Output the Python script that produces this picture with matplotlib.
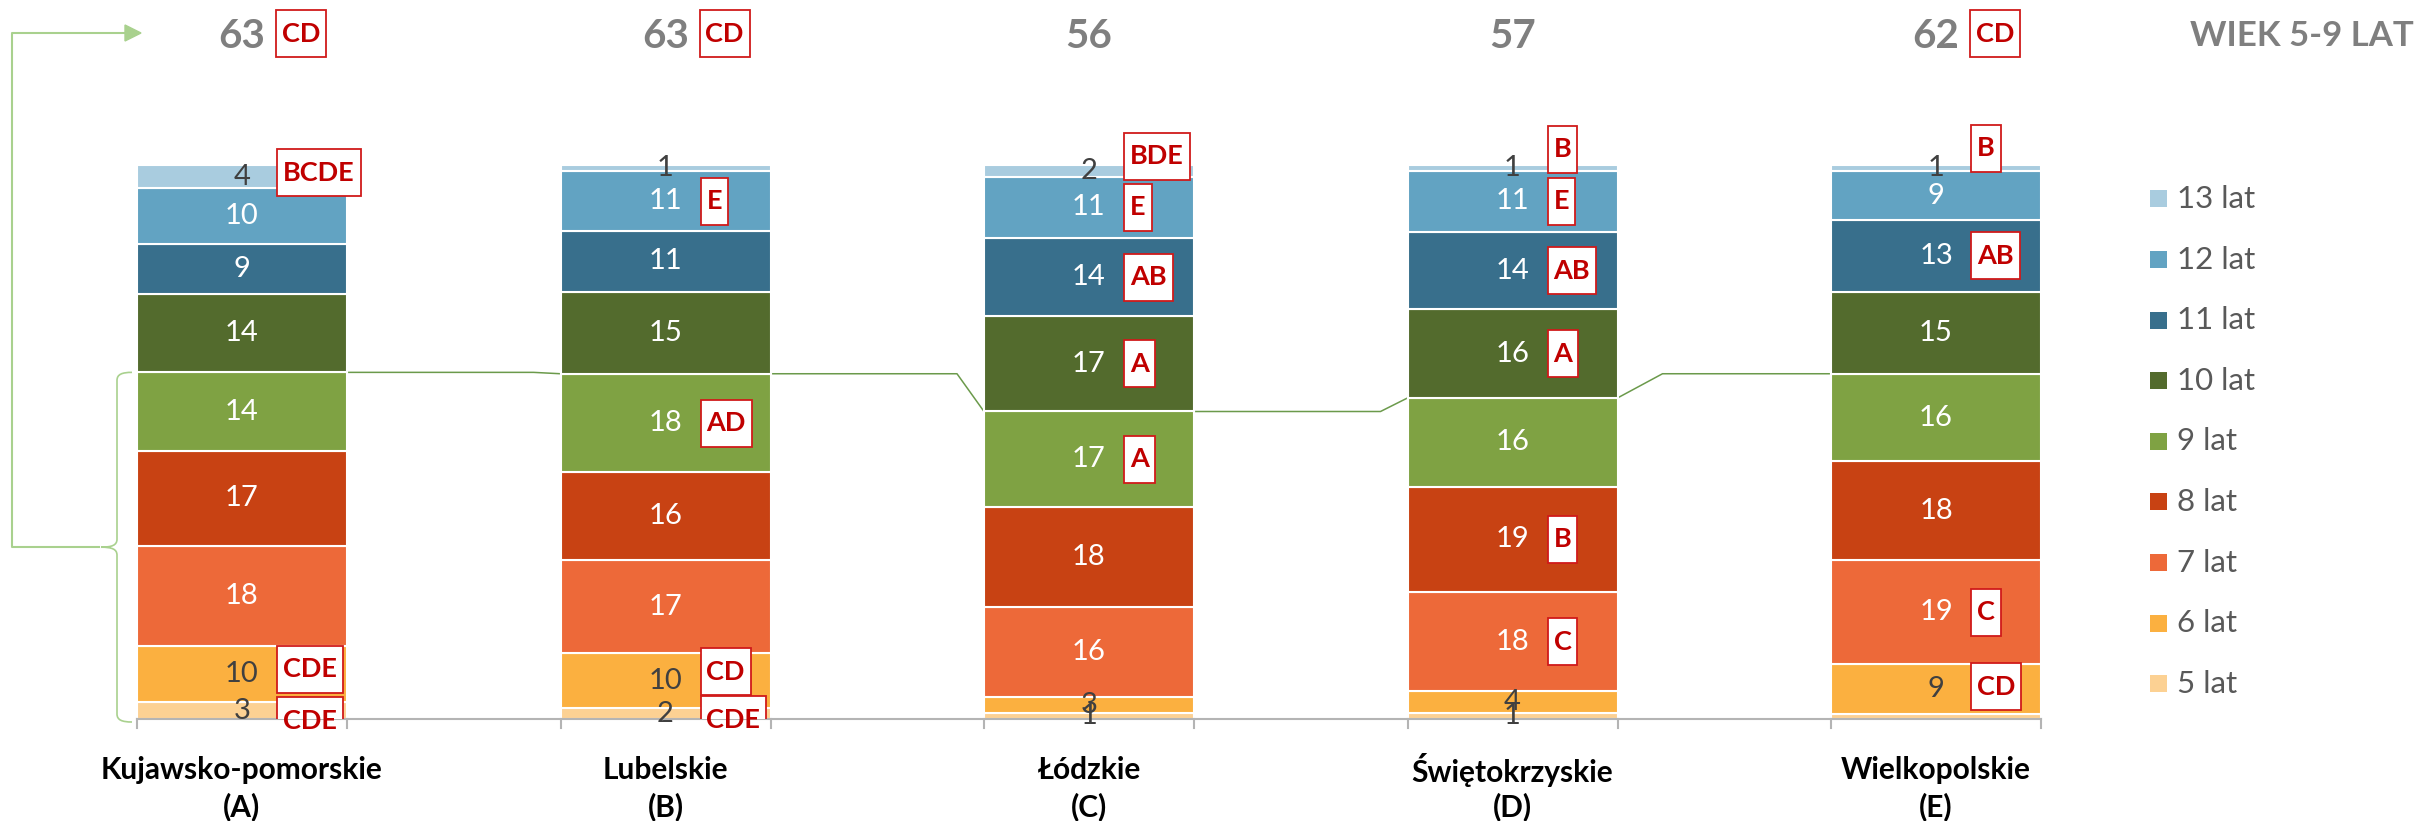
import matplotlib
matplotlib.use("Agg")
import matplotlib.pyplot as plt
import numpy as np
from matplotlib.patches import Rectangle, PathPatch, Polygon
from matplotlib.path import Path
from matplotlib.transforms import Affine2D
from matplotlib.lines import Line2D

plt.rcParams['font.family'] = ['Lato', 'DejaVu Sans']

W, H = 2425, 821

# ---------------- data ----------------
regions = ["Kujawsko-pomorskie\n(A)", "Lubelskie\n(B)", "Łódzkie\n(C)",
           "Świętokrzyskie\n(D)", "Wielkopolskie\n(E)"]
ages = ["5 lat", "6 lat", "7 lat", "8 lat", "9 lat",
        "10 lat", "11 lat", "12 lat", "13 lat"]

lat5 = [3, 2, 1, 1, 1]
lat6 = [10, 10, 3, 4, 9]
lat7 = [18, 17, 16, 18, 19]
lat8 = [17, 16, 18, 19, 18]
lat9 = [14, 18, 17, 16, 16]
lat10 = [14, 15, 17, 16, 15]
lat11 = [9, 11, 14, 14, 13]
lat12 = [10, 11, 11, 11, 9]
lat13 = [4, 1, 2, 1, 1]

share_5_9 = [63, 63, 56, 57, 62]
share_5_9_marks = ["CD", "CD", "", "", "CD"]
group_title = "WIEK 5-9 LAT"

# letters of regions from which a value differs significantly
marks = {
    "13 lat": ["BCDE", "", "BDE", "B", "B"],
    "12 lat": ["", "E", "E", "E", ""],
    "11 lat": ["", "", "AB", "AB", "AB"],
    "10 lat": ["", "", "A", "A", ""],
    "9 lat": ["", "AD", "A", "", ""],
    "8 lat": ["", "", "", "B", ""],
    "7 lat": ["", "", "", "C", "C"],
    "6 lat": ["CDE", "CD", "", "", "CD"],
    "5 lat": ["CDE", "CDE", "", "", ""],
}

# ---------------- style ----------------
colors = ["#FCD193", "#FBB040", "#ED6939", "#C84213", "#7FA243",
          "#536B2D", "#386F8C", "#62A3C2", "#A9CCDF"]
dark_label = {"5 lat", "6 lat", "13 lat"}
# segments whose value label is left out (too thin)
hidden_labels = {("5 lat", 4)}
# vertical nudges of the letter boxes, pixels (negative = up)
mark_dy = {
    "13 lat": [-4, 0, -15, -19, -20],
    "6 lat": [-5, -9, 0, 0, -2],
    "5 lat": [10, 6, 0, 0, 0],
}
RED = "#C00000"
GREEN_LINE = "#6B9A4B"
BRACE = "#A9D18E"

values = [lat5, lat6, lat7, lat8, lat9, lat10, lat11, lat12, lat13]
vals = np.array(values, dtype=float)
pct = vals / vals.sum(axis=0) * 100.0

# geometry
X0 = 242.0          # centre of first bar, px
DX = 423.5          # distance between bar centres, px
BASE = 719.0        # baseline, px from top
PPU = 553.5 / 100   # px per percent
BAR_W = 210.0 / DX

fig = plt.figure(figsize=(W / 100, H / 100), dpi=100)
ax = fig.add_axes([0, (H - BASE) / H, 1, BASE / H])
ax.set_xlim(-X0 / DX, (W - X0) / DX)
ax.set_ylim(0, BASE / PPU)
ax.axis("off")

px = Affine2D().scale(1 / W, -1 / H).translate(0, 1) + fig.transFigure


def ypx(y):
    return (BASE - y) / PPU


x = np.arange(len(regions))
bottom = np.zeros(len(regions))
for i, age in enumerate(ages):
    ax.bar(x, pct[i], BAR_W, bottom=bottom, color=colors[i],
           edgecolor="white", linewidth=1.5, label=age, zorder=2)
    for j in range(len(regions)):
        if (age, j) in hidden_labels:
            continue
        yc = bottom[j] + pct[i][j] / 2
        col = "#404040" if age in dark_label else "white"
        ax.text(x[j], yc, f"{values[i][j]:d}", ha="center", va="center",
                fontsize=21, color=col, zorder=5)
    bottom = bottom + pct[i]

fig.canvas.draw()
renderer = fig.canvas.get_renderer()


def letter_box(xc, yc, txt, fs=19.5):
    left = xc + 35 / DX
    t = ax.text(left, yc, txt, ha="left", va="center", fontsize=fs,
                fontweight="bold", color=RED, zorder=7)
    bb = t.get_window_extent(renderer)
    hpad = 6
    wbox = (bb.width + 2 * hpad) / DX
    t.set_x(left + hpad / DX)
    hbox = 47 / PPU
    ax.add_patch(Rectangle((left, yc - hbox / 2), wbox, hbox, facecolor="white",
                           edgecolor="#D01A1A", linewidth=1.3, zorder=6))


bottom = np.zeros(len(regions))
for i, age in enumerate(ages):
    for j in range(len(regions)):
        m = marks[age][j]
        if m:
            yc = bottom[j] + pct[i][j] / 2 - mark_dy.get(age, [0] * 5)[j] / PPU
            letter_box(x[j], yc, m)
    bottom = bottom + pct[i]

# shares of 5-9 year olds above the bars
for j in range(len(regions)):
    ax.text(x[j], ypx(36), str(share_5_9[j]), ha="center", va="center",
            fontsize=29, fontweight="bold", color="#7F7F7F", clip_on=False)
    if share_5_9_marks[j]:
        letter_box(x[j] - 1 / DX, ypx(33.5), share_5_9_marks[j])

fig.text(2414 / W, 1 - 36 / H, group_title, ha="right", va="center",
         fontsize=25, fontweight="bold", color="#7F7F7F")

# horizontal axis with ticks at bar edges
left_e = x - BAR_W / 2
right_e = x + BAR_W / 2
ax.plot([left_e[0], right_e[-1]], [0, 0], color="#B4B4B4", lw=1.5,
        clip_on=False, zorder=3)
for xe in np.concatenate([left_e, right_e]):
    ax.plot([xe, xe], [0, -9 / PPU], color="#B4B4B4", lw=1.5, clip_on=False,
            zorder=3)

# category labels
for j, name in enumerate(regions):
    l1, l2 = name.split("\n")
    ax.text(x[j], ypx(770), l1, ha="center", va="center", fontsize=21.5,
            fontweight="bold", color="black", clip_on=False)
    ax.text(x[j], ypx(807), l2, ha="center", va="center", fontsize=21.5,
            fontweight="bold", color="black", clip_on=False)

# connector at the top of the 9-year-olds segment
level = pct[:5].sum(axis=0)
bends = [-27, -27, -27, 45]
for j in range(len(regions) - 1):
    xa, xb = right_e[j], left_e[j + 1]
    la, lb = level[j], level[j + 1]
    b = bends[j]
    if b < 0:
        xs = [xa, xb + b / DX, xb]
        ys = [la, la, lb]
    else:
        xs = [xa, xa + b / DX, xb]
        ys = [la, lb, lb]
    ax.plot(xs, ys, color=GREEN_LINE, lw=1.1, zorder=1)

# brace over the 5-9 age group and arrow to the share
top9 = BASE - level[0] * PPU
bot9 = BASE + 3
mid9 = (top9 + bot9) / 2
bx, ex, tipx = 117, 132, 101
verts = [(ex, top9), (bx + 5, top9), (bx, top9 + 2), (bx, top9 + 8),
         (bx, mid9 - 8),
         (bx, mid9 - 2), (bx - 5, mid9), (tipx, mid9),
         (bx - 5, mid9), (bx, mid9 + 2), (bx, mid9 + 8),
         (bx, bot9 - 8),
         (bx, bot9 - 2), (bx + 5, bot9), (ex, bot9)]
codes = [Path.MOVETO, Path.CURVE4, Path.CURVE4, Path.CURVE4,
         Path.LINETO,
         Path.CURVE4, Path.CURVE4, Path.CURVE4,
         Path.CURVE4, Path.CURVE4, Path.CURVE4,
         Path.LINETO,
         Path.CURVE4, Path.CURVE4, Path.CURVE4]
fig.patches.append(PathPatch(Path(verts, codes), transform=px, fill=False,
                             edgecolor=BRACE, lw=1.2))
fig.lines.append(Line2D([99, 12, 12, 126], [mid9, mid9, 33, 33], transform=px,
                        color=BRACE, lw=1.5))
fig.patches.append(Polygon([(125, 25), (141, 33), (125, 41)], closed=True,
                           transform=px, facecolor=BRACE, edgecolor=BRACE))

# legend
for k, i in enumerate(range(len(ages) - 1, -1, -1)):
    yc = 199 + 60.6 * k
    fig.patches.append(Rectangle((2150, yc - 8.5), 17, 17, transform=px,
                                 facecolor=colors[i], edgecolor="none"))
    fig.text(2177 / W, 1 - yc / H, ages[i], ha="left", va="center",
             fontsize=22.5, color="#595959")

fig.savefig("out.png", dpi=100)
